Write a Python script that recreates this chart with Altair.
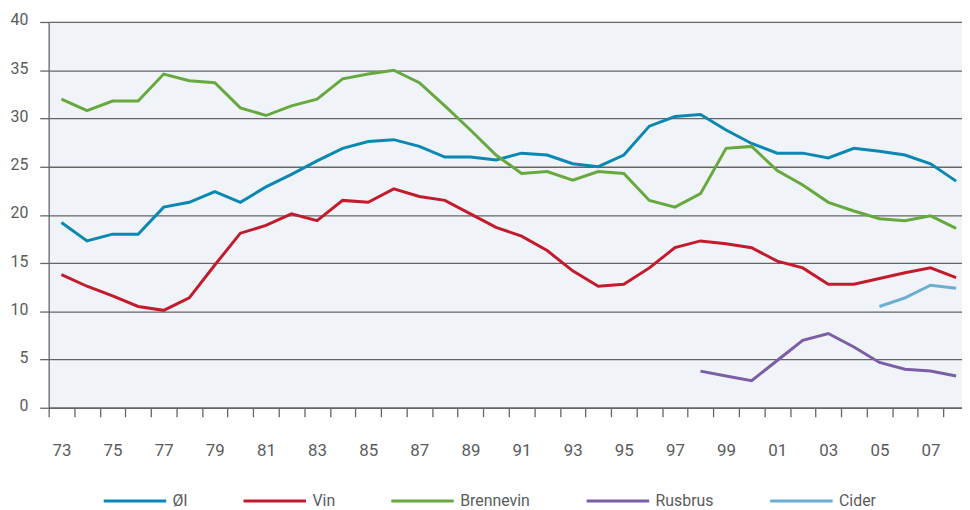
import altair as alt
import pandas as pd

years = list(range(1973, 2009))
ol = [19.2, 17.3, 18.0, 18.0, 20.8, 21.3, 22.4, 21.3, 22.9, 24.2, 25.6, 26.9, 27.6, 27.8, 27.1, 26.0, 26.0, 25.7,
      26.4, 26.2, 25.3, 25.0, 26.2, 29.2, 30.2, 30.4, 28.8, 27.4, 26.4, 26.4, 25.9, 26.9, 26.6, 26.2, 25.3, 23.5]
vin = [13.8, 12.6, 11.6, 10.5, 10.1, 11.4, 14.8, 18.1, 18.9, 20.1, 19.4, 21.5, 21.3, 22.7, 21.9, 21.5, 20.1, 18.7,
       17.8, 16.3, 14.2, 12.6, 12.8, 14.5, 16.6, 17.3, 17.0, 16.6, 15.2, 14.5, 12.8, 12.8, 13.4, 14.0, 14.5, 13.5]
brennevin = [32.0, 30.8, 31.8, 31.8, 34.6, 33.9, 33.7, 31.1, 30.3, 31.3, 32.0, 34.1, 34.6, 35.0, 33.7, 31.3, 28.8, 26.2,
             24.3, 24.5, 23.6, 24.5, 24.3, 21.5, 20.8, 22.2, 26.9, 27.1, 24.6, 23.1, 21.3, 20.4, 19.6, 19.4, 19.9, 18.6]
rusbrus_years = list(range(1998, 2009))
rusbrus = [3.8, 3.3, 2.8, 4.9, 7.0, 7.7, 6.3, 4.7, 4.0, 3.8, 3.3]
cider_years = [2005, 2006, 2007, 2008]
cider = [10.5, 11.4, 12.7, 12.4]

series_names = ["Øl", "Vin", "Brennevin", "Rusbrus", "Cider"]
series_colors = ["#0b87b3", "#c41a2e", "#67a83f", "#7b5ea7", "#6aafd2"]

rows = []
for name, ys, vs in [("Øl", years, ol), ("Vin", years, vin), ("Brennevin", years, brennevin),
                     ("Rusbrus", rusbrus_years, rusbrus), ("Cider", cider_years, cider)]:
    for y, v in zip(ys, vs):
        rows.append({"year": y, "value": v, "series": name})
df = pd.DataFrame(rows)

tick_values = [1972.5 + i for i in range(36)] + list(range(1973, 2009, 2))

grey = "#5a5b5d"
gridc = "#656565"

x_axis = alt.Axis(
    values=tick_values,
    labelExpr="datum.value % 1 == 0 ? slice('0' + (datum.value % 100), -2) : ''",
    tickOpacity={"condition": {"test": "datum.value % 1 == 0", "value": 0}, "value": 1},
    tickSize=9,
    tickColor=gridc,
    tickWidth=1.3,
    domainColor=gridc,
    domainWidth=1.3,
    grid=False,
    labelOverlap=False,
    labelFlush=False,
    labelPadding=26,
    labelFont="Roboto",
    labelFontSize=17,
    labelColor=grey,
    title=None,
)

y_axis = alt.Axis(
    values=list(range(0, 41, 5)),
    tickSize=9,
    tickColor=gridc,
    tickWidth=1.3,
    domainColor=gridc,
    domainWidth=1.3,
    grid=True,
    gridColor=gridc,
    gridWidth=1.3,
    labelPadding=12,
    labelFont="Roboto",
    labelFontSize=16,
    labelColor=grey,
    labelOffset=-2,
    title=None,
)

chart = alt.Chart(df).mark_line(strokeWidth=3).encode(
    x=alt.X("year:Q", scale=alt.Scale(domain=[1972.5, 2008.23], nice=False, zero=False), axis=x_axis),
    y=alt.Y("value:Q", scale=alt.Scale(domain=[0, 40], nice=False), axis=y_axis),
    color=alt.Color(
        "series:N",
        scale=alt.Scale(domain=series_names, range=series_colors),
        sort=series_names,
        legend=alt.Legend(
            orient="none",
            legendX=54,
            legendY=450,
            direction="horizontal",
            title=None,
            symbolType="stroke",
            symbolSize=3969,
            symbolStrokeWidth=3,
            labelFont="Roboto",
            labelFontSize=16,
            labelColor=grey,
            labelOffset=5,
            columnPadding=50,
        ),
    ),
).properties(
    width=921,
    height=389,
    padding={"left": 41, "top": 12, "right": 0, "bottom": 100},
    autosize=alt.AutoSizeParams(type="none"),
    background="white",
).configure_view(
    fill="#f0f4f8",
    strokeWidth=0,
)

chart.save("out.html", embed_options={"renderer": "svg", "actions": False})
